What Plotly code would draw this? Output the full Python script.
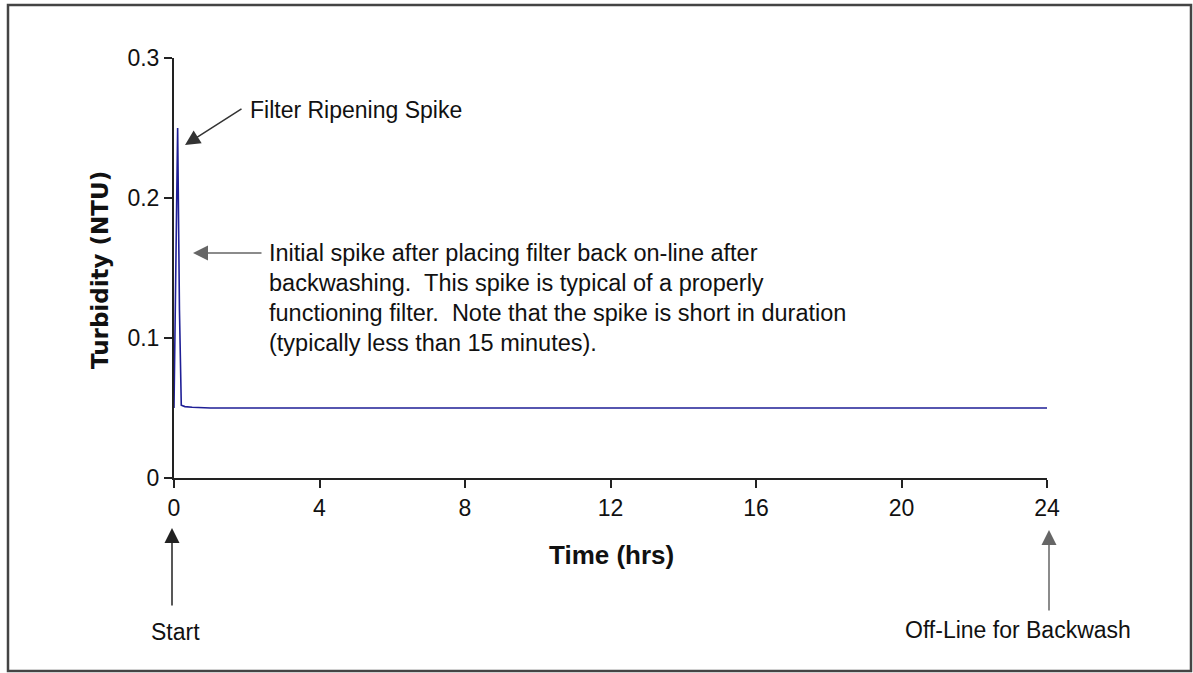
import plotly.graph_objects as go

# ---- data ----
time_hrs = [0, 0.05, 0.1, 0.15, 0.2, 0.3, 0.5, 1, 2, 2.5, 4, 8, 12, 16, 20, 23, 24]
turbidity = [0.05, 0.15, 0.25, 0.12, 0.052, 0.051, 0.0505, 0.05, 0.05, 0.0495, 0.05, 0.05, 0.05, 0.05, 0.05, 0.05, 0.05]

x_ticks = [0, 4, 8, 12, 16, 20, 24]
y_ticks = [0, 0.1, 0.2, 0.3]
y_ticktext = ["0", "0.1", "0.2", "0.3"]

note_lines = [
    "Initial spike after placing filter back on-line after",
    "backwashing.  This spike is typical of a properly",
    "functioning filter.  Note that the spike is short in duration",
    "(typically less than 15 minutes).",
]

FONT = "Liberation Sans, Arial, sans-serif"

fig = go.Figure()
fig.add_trace(go.Scatter(x=time_hrs, y=turbidity, mode="lines",
                         line=dict(color="#1f1f96", width=1.6), showlegend=False))

# body margin is removed below, so figure sits at page (0,0)
PL, PT, PR, PB = 174, 58, 1047, 478   # plot area in page pixels
W, H = 1193, 673
L, T = PL, PT
pw, ph = PR - PL, PB - PT
R = W - L - pw
B = H - T - ph

def px(x):
    return (x - PL) / pw

def py(y):
    return (PB - y) / ph

ARW = dict(arrowhead=2, arrowsize=2.0, arrowwidth=1.5)

ann = []
# Filter ripening spike
ann.append(dict(x=px(248), y=py(110), xref="paper", yref="paper", text="Filter Ripening Spike",
                showarrow=False, xanchor="left", yanchor="middle",
                font=dict(family=FONT, size=23, color="#111")))
ann.append(dict(x=px(185), y=py(145), xref="paper", yref="paper", text="", showarrow=True,
                ax=58, ay=-37, arrowcolor="#333", **ARW))
# Initial spike note
for i, line in enumerate(note_lines):
    ann.append(dict(x=px(267), y=py(253 + 30 * i), xref="paper", yref="paper", text=line,
                    showarrow=False, xanchor="left", yanchor="middle",
                    font=dict(family=FONT, size=23.5, color="#111")))
ann.append(dict(x=px(193), y=py(253), xref="paper", yref="paper", text="", showarrow=True,
                ax=70, ay=0, arrowcolor="#666", **ARW))
# Start
ann.append(dict(x=px(175), y=py(632), xref="paper", yref="paper", text="Start",
                showarrow=False, xanchor="center", yanchor="middle",
                font=dict(family=FONT, size=23, color="#111")))
ann.append(dict(x=px(172), y=py(528), xref="paper", yref="paper", text="", showarrow=True,
                ax=0, ay=79, arrowcolor="#222", **ARW))
# Off-line
ann.append(dict(x=px(1018), y=py(630), xref="paper", yref="paper", text="Off-Line for Backwash",
                showarrow=False, xanchor="center", yanchor="middle",
                font=dict(family=FONT, size=23, color="#111")))
ann.append(dict(x=px(1049), y=py(530), xref="paper", yref="paper", text="", showarrow=True,
                ax=0, ay=82, arrowcolor="#666", **ARW))
# axis titles
ann.append(dict(x=px(611), y=py(555), xref="paper", yref="paper", text="Time (hrs)",
                showarrow=False, xanchor="center", yanchor="middle",
                font=dict(family=FONT, size=26, color="#111", weight="bold")))
ann.append(dict(x=px(100), y=py(270), xref="paper", yref="paper", text="Turbidity (NTU)",
                showarrow=False, xanchor="center", yanchor="middle", textangle=-90,
                font=dict(family="DejaVu Sans, sans-serif", size=23, color="#111", weight="bold")))

fig.update_layout(
    width=W, height=H,
    margin=dict(l=L, r=R, t=T, b=B, pad=0),
    plot_bgcolor="white", paper_bgcolor="white",
    annotations=ann,
    shapes=[dict(type="rect", xref="paper", yref="paper",
                 x0=px(8), x1=px(1191), y0=py(671), y1=py(5),
                 line=dict(color="#444", width=2.5), fillcolor="rgba(0,0,0,0)")],
    xaxis=dict(range=[0, 24], tickvals=x_ticks, showgrid=False, zeroline=False,
               showline=True, linecolor="#222", linewidth=2, ticks="outside",
               ticklen=8, tickwidth=2, tickcolor="#222",
               tickfont=dict(family=FONT, size=23, color="#111")),
    yaxis=dict(range=[0, 0.3], tickvals=y_ticks, ticktext=y_ticktext, showgrid=False,
               zeroline=False, showline=True, linecolor="#222", linewidth=2,
               ticks="outside", ticklen=8, tickwidth=2, tickcolor="#222",
               tickfont=dict(family=FONT, size=23, color="#111")),
)

fig.write_html("out.html", config={"displayModeBar": False},
               post_script="document.body.style.margin='0';document.body.style.overflow='hidden';")
